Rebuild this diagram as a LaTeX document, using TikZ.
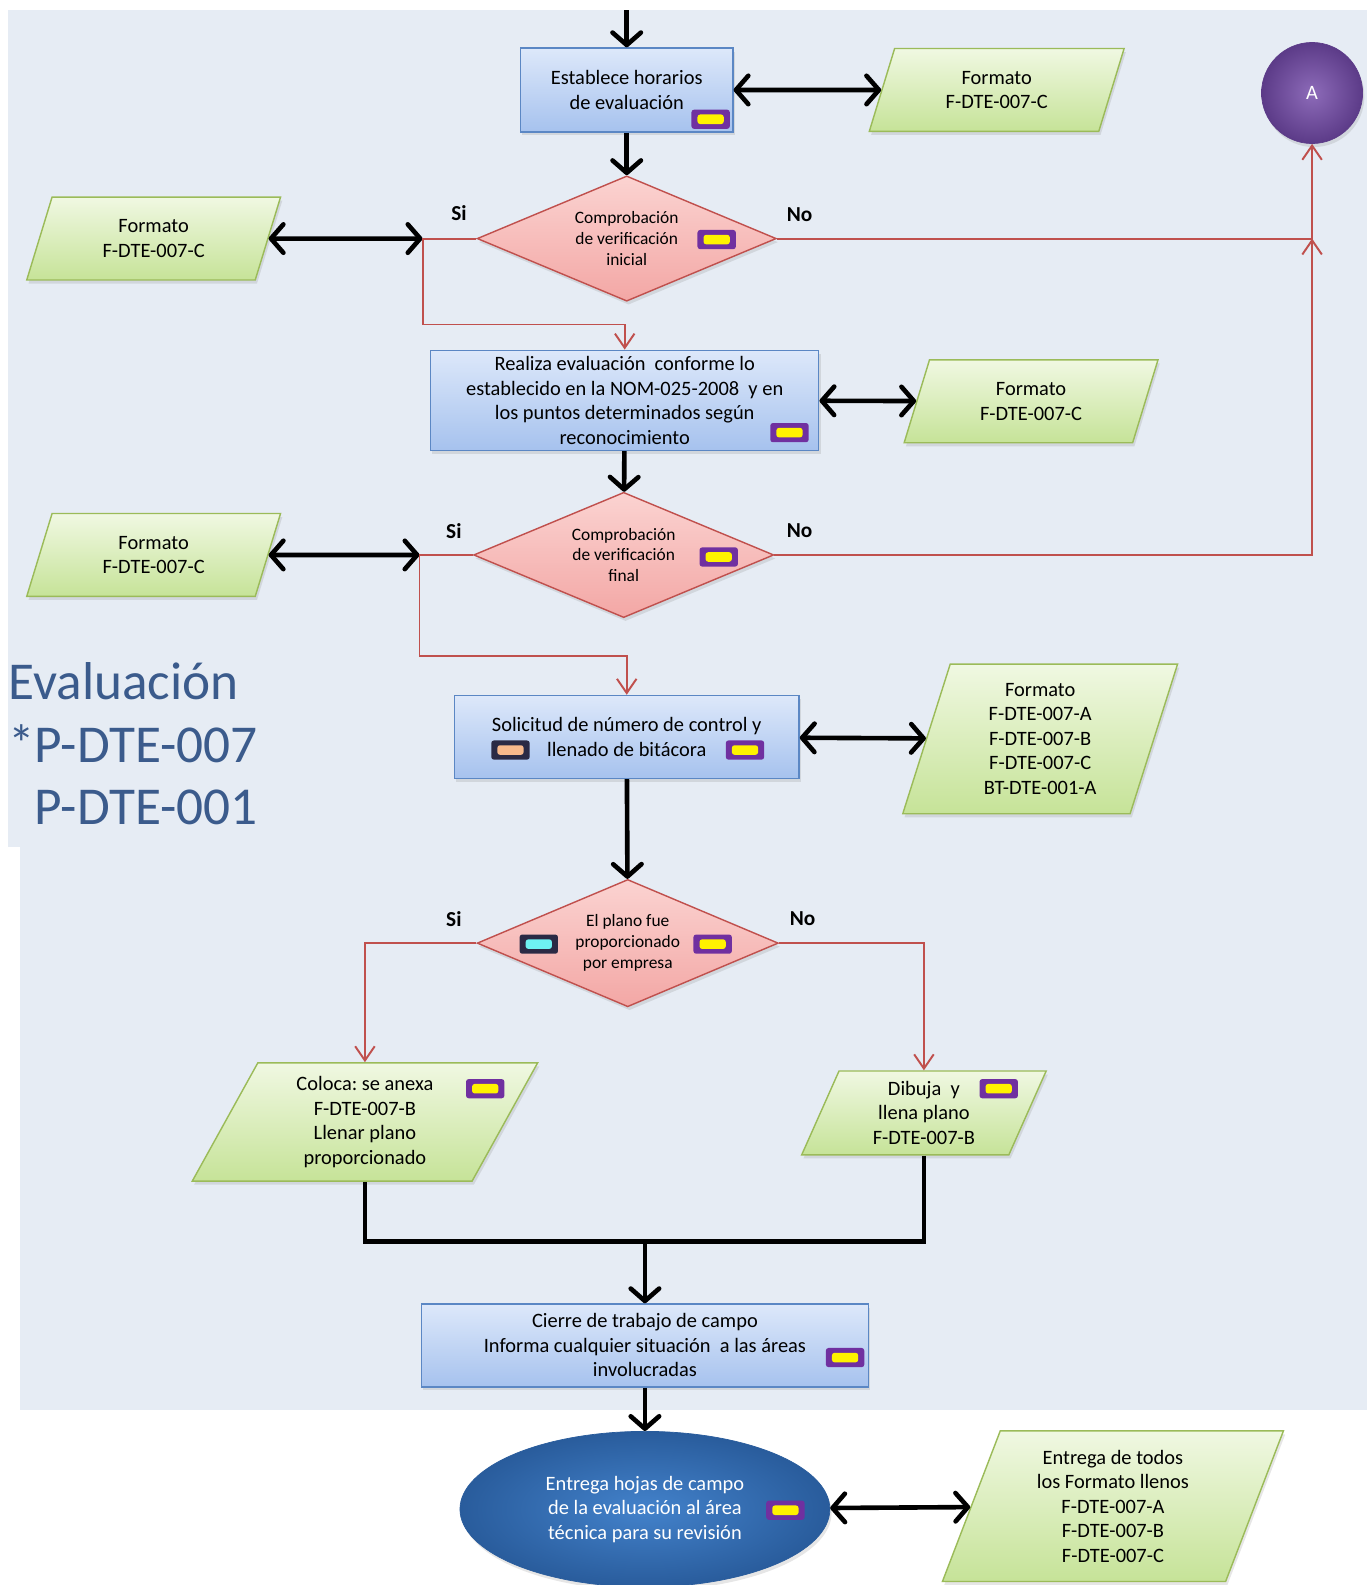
\documentclass[tikz,border=0pt]{standalone}
\usepackage{fontspec}
\setmainfont{Carlito}
\usepackage{tikz}
\usetikzlibrary{positioning,shapes.geometric,arrows.meta,shadows}
\usepackage{xcolor}
\frenchspacing

\definecolor{fondo}{HTML}{E6ECF4}
\definecolor{azulsup}{HTML}{DDE8FA}
\definecolor{azulinf}{HTML}{A6C2EE}
\definecolor{azulborde}{HTML}{5B87C4}
\definecolor{versup}{HTML}{F0F8E2}
\definecolor{verinf}{HTML}{C6E398}
\definecolor{verborde}{HTML}{9BBB59}
\definecolor{rosasup}{HTML}{FBD3D1}
\definecolor{rosainf}{HTML}{F3A7A5}
\definecolor{rojo}{HTML}{C0504D}
\definecolor{morado}{HTML}{7030A0}
\definecolor{marino}{HTML}{2B2A45}
\definecolor{durazno}{HTML}{F8B98C}
\definecolor{cian}{HTML}{6EF2F2}
\definecolor{moradoclaro}{HTML}{8D6BB9}
\definecolor{moradooscuro}{HTML}{5C3B88}
\definecolor{azulelclaro}{HTML}{4382CB}
\definecolor{azuleloscuro}{HTML}{295C9C}
\definecolor{colortitulo}{HTML}{3B5B8C}

\begin{document}
\begin{tikzpicture}[x=0.02cm, y=-0.02cm,
% estilos
proceso/.style={rectangle, draw=azulborde, thick, top color=azulsup, bottom color=azulinf, align=center, inner sep=1pt, font=\fontsize{11.5}{13.8}\selectfont, drop shadow={opacity=0.2, shadow xshift=1pt, shadow yshift=-2pt}},
decision/.style={diamond, aspect=2.4, draw=rojo, thick, top color=rosasup, bottom color=rosainf, align=center, inner sep=0pt, font=\fontsize{9.8}{11.7}\selectfont, drop shadow={opacity=0.2, shadow xshift=1pt, shadow yshift=-2pt}},
formato/.style n args={4}{trapezium, trapezium left angle=#1, trapezium right angle=#2, draw=verborde, thick, top color=versup, bottom color=verinf, inner sep=0pt, execute at begin node={\begin{minipage}[c][#3][c]{#4}\centering\fontsize{11.5}{13.8}\selectfont}, execute at end node={\end{minipage}}, drop shadow={opacity=0.2, shadow xshift=1pt, shadow yshift=-2pt}},
circulo/.style={circle, minimum size=2cm, inner sep=0pt, inner color=moradoclaro, outer color=moradooscuro, draw=moradooscuro, text=white, font=\fontsize{11.5}{13.8}\selectfont, drop shadow={opacity=0.2, shadow xshift=1pt, shadow yshift=-2pt}},
terminal/.style={ellipse, minimum width=7.32cm, minimum height=3.08cm, inner sep=0pt, inner color=azulelclaro, outer color=azuleloscuro, draw=azuleloscuro, text=white, align=center, font=\fontsize{11.5}{13.8}\selectfont, drop shadow={opacity=0.2, shadow xshift=1pt, shadow yshift=-2pt}},
marca/.style={rectangle, rounded corners=1.5pt, fill=morado, minimum width=0.76cm, minimum height=0.38cm, inner sep=0pt, path picture={\fill[#1] ([xshift=0.12cm,yshift=0.095cm]path picture bounding box.south west) rectangle ([xshift=-0.12cm,yshift=-0.095cm]path picture bounding box.north east);}},
marca/.default=yellow,
marcaosc/.style={marca=#1, fill=marino},
etiqueta/.style={font=\fontsize{12}{14}\selectfont\bfseries, inner sep=0pt},
titulo/.style={text=colortitulo, font=\fontsize{30}{35.3}\selectfont, align=left, inner sep=0pt, anchor=north west},
flecha/.style={line width=2.6pt, -{Straight Barb[round, length=7pt, width=16pt]}},
dobleflecha/.style={line width=2.6pt, {Straight Barb[round, length=7pt, width=16pt]}-{Straight Barb[round, length=7pt, width=16pt]}},
linea/.style={line width=2.6pt},
rojaflecha/.style={draw=rojo, line width=1.1pt, -{Straight Barb[length=8pt, width=11pt]}},
]
\useasboundingbox (0,0) rectangle (1353,1568);
\fill[fondo] (8,10) rectangle (1352,838);
\fill[fondo] (20,838) rectangle (1352,1395);

%Nodos
\node[proceso, minimum width=4.2cm, minimum height=1.66cm] (b1) at (620,89) {Establece horarios\\de evaluación};
\node[formato={73}{107}{1.64cm}{4.04cm}] (f1) at (986,89) {Formato\\F-DTE-007-C};
\node[circulo] (cA) at (1298,92) {A};
\node[decision, minimum width=5.92cm, minimum height=2.48cm] (d1) at (620,236) {Comprobación\\de verificación\\inicial};
\node[formato={73}{107}{1.64cm}{4.02cm}] (f2) at (152,236) {Formato\\F-DTE-007-C};
\node[proceso, minimum width=7.68cm, minimum height=1.98cm] (b2) at (618,396) {Realiza evaluación~ conforme lo\\establecido en la NOM-025-2008~ y en\\los puntos determinados según\\reconocimiento};
\node[formato={73}{107}{1.64cm}{4.02cm}] (f3) at (1020,397) {Formato\\F-DTE-007-C};
\node[decision, minimum width=5.94cm, minimum height=2.48cm] (d2) at (617,549) {Comprobación\\de verificación\\final};
\node[formato={73}{107}{1.64cm}{4.02cm}] (f4) at (152,549) {Formato\\F-DTE-007-C};
\node[proceso, minimum width=6.82cm, minimum height=1.64cm] (b3) at (620,729) {Solicitud de número de control y\\llenado de bitácora};
\node[formato={72.4}{107.6}{2.96cm}{3.56cm}] (f5) at (1029,731) {Formato\\F-DTE-007-A\\F-DTE-007-B\\F-DTE-007-C\\BT-DTE-001-A};
\node[decision, minimum width=5.96cm, minimum height=2.52cm] (d3) at (621,933) {El plano fue\\proporcionado\\por empresa};
\node[formato={61}{119}{2.34cm}{4.24cm}] (f6) at (361,1110) {Coloca: se anexa\\F-DTE-007-B\\Llenar plano\\proporcionado};
\node[formato={66}{114}{1.66cm}{3.36cm}] (f7) at (914,1101) {Dibuja~ y\\llena plano\\F-DTE-007-B};
\node[proceso, minimum width=8.84cm, minimum height=1.64cm] (b4) at (638,1331) {Cierre de trabajo de campo\\Informa cualquier situación~ a las áreas\\involucradas};
\node[terminal] (e1) at (638,1493) {Entrega hojas de campo\\de la evaluación al área\\técnica para su revisión};
\node[formato={69}{111}{2.98cm}{4.46cm}] (f8) at (1101,1490) {Entrega de todos\\los Formato llenos\\F-DTE-007-A\\F-DTE-007-B\\F-DTE-007-C};

\node[titulo] (tit) at (8,655) {Evaluación\\*P-DTE-007\\\hphantom{*}P-DTE-001};

%Marcas
\node[marca] (m1) at (703,118) {};
\node[marca] (m2) at (709,237) {};
\node[marca] (m3) at (781,428) {};
\node[marca] (m4) at (711,551) {};
\node[marcaosc=durazno] (m5) at (505,742) {};
\node[marca] (m6) at (737,742) {};
\node[marcaosc=cian] (m7) at (533,934) {};
\node[marca] (m8) at (705,934) {};
\node[marca] (m9) at (480,1077) {};
\node[marca] (m10) at (988,1077) {};
\node[marca] (m11) at (836,1343) {};
\node[marca] (m12) at (777,1494) {};

%Etiquetas
\node[etiqueta] (si1) at (454,211) {Si};
\node[etiqueta] (no1) at (791,212) {No};
\node[etiqueta] (si2) at (449,525) {Si};
\node[etiqueta] (no2) at (791,525) {No};
\node[etiqueta] (si3) at (449,909) {Si};
\node[etiqueta] (no3) at (794,909) {No};

%Puntos de union
\coordinate (ini) at (620,10);
\coordinate (j1) at (418,236);
\coordinate (k1) at (618,321);
\coordinate (jA) at (1298,236);
\coordinate (j2) at (415,549);
\coordinate (k2) at (620,649);
\coordinate (u1) at (638,1228);

%Lineas
\draw[flecha] (ini) -- (b1);
\draw[dobleflecha] (b1) -- (f1);
\draw[flecha] (b1) -- (d1);
\draw[dobleflecha] (f2) -- (j1);
\draw[rojaflecha] (d1.west) -- (j1) |- (k1) -- (b2.north);
\draw[rojaflecha] (d1.east) -- (jA) -- (cA);
\draw[dobleflecha] (b2) -- (f3);
\draw[flecha] (b2) -- (d2);
\draw[dobleflecha] (f4) -- (j2);
\draw[rojaflecha] (d2.west) -- (j2) |- (k2) -- (b3.north);
\draw[rojaflecha] (d2.east) -| (jA);
\draw[dobleflecha] (b3) -- (f5);
\draw[flecha] (b3) -- (d3);
\draw[rojaflecha] (d3.west) -| (f6.north);
\draw[rojaflecha] (d3.east) -| (f7.north);
\draw[linea] (f6.south) |- (u1);
\draw[linea] (f7.south) |- (u1);
\draw[flecha] (u1) -- (b4);
\draw[flecha] (b4) -- (e1);
\draw[dobleflecha] (e1) -- (f8);

\end{tikzpicture}
\end{document}
